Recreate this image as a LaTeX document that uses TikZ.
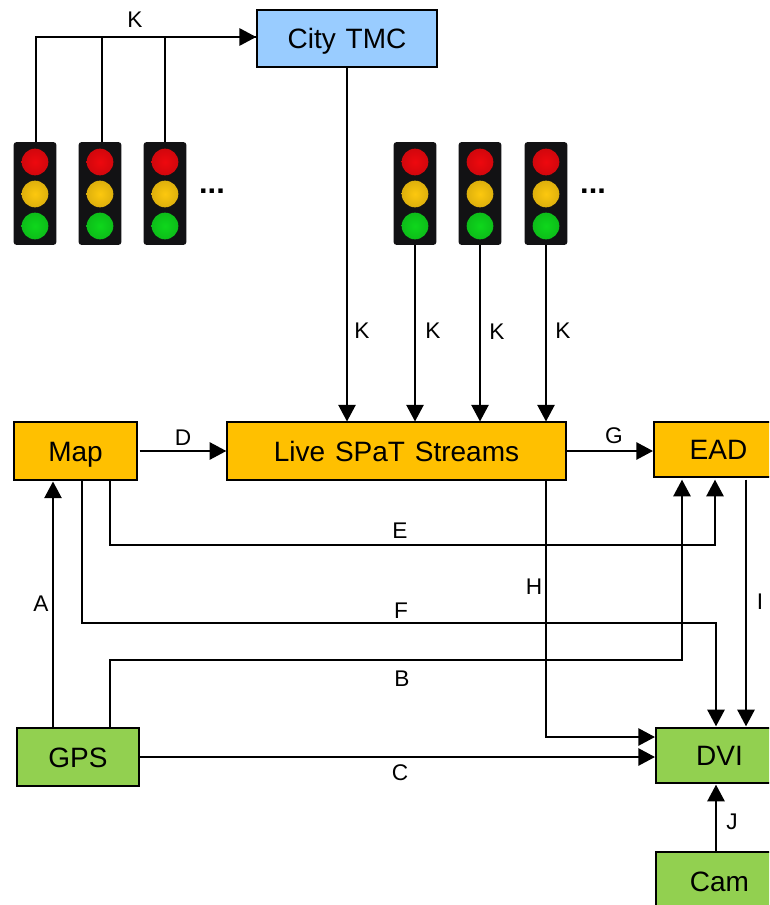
\documentclass[tikz,border=0pt]{standalone}
\usepackage{fontspec}
\setmainfont{Liberation Sans}
\usetikzlibrary{arrows.meta,calc}
\definecolor{lampred}{RGB}{238,8,14}
\definecolor{lampyellow}{RGB}{252,200,14}
\definecolor{lampgreen}{RGB}{14,215,28}
\tikzset{
  block/.style={draw,line width=1.3pt,inner sep=0pt,minimum height=43pt,text height=15pt,text depth=0pt,font=\fontsize{21}{21}\selectfont},
  amber/.style={block,fill={rgb,255:red,255;green,192;blue,0}},
  leaf/.style={block,fill={rgb,255:red,146;green,208;blue,80}},
  link/.style={line width=1.3pt,-{Triangle[length=12.5pt,width=13pt]}},
  wire/.style={line width=1.3pt},
  letter/.style={inner sep=0pt,font=\fontsize{17}{17}\selectfont},
  housing/.style={fill={rgb,255:red,18;green,18;blue,20},rounded corners=2pt,minimum width=32pt,minimum height=77pt,inner sep=0pt},
  lamp/.style={circle,minimum size=20pt,inner sep=0pt,inner color=#1,outer color=#1!88!black},
  ellipsis/.style={inner sep=0pt,font=\fontsize{23}{23}\selectfont\bfseries}
}
\begin{document}
\begin{tikzpicture}[x=0.75pt,y=-0.75pt]
  \useasboundingbox (0,0) rectangle (769,905);
  \clip (0,0) rectangle (769,905);
  \foreach \name/\xpos in {sa/35,sb/100,sc/165,sd/415,se/480,sf/546} { % signal heads
    \node[housing] (\name) at (\xpos,193.5) {};
    \node[lamp=lampred] (\name r) at (\xpos,162) {};
    \node[lamp=lampyellow] (\name y) at (\xpos,194) {};
    \node[lamp=lampgreen] (\name g) at (\xpos,226) {};
  }
  \node[ellipsis] (dotsa) at (212,191) {...};
  \node[ellipsis] (dotsb) at (593,191) {...};

  \node[block,minimum width=135pt,fill={rgb,255:red,153;green,204;blue,255}] (tmc) at (347,38.5) {City\hspace{0.35em}TMC};
  \node[amber,minimum width=92pt] (map) at (75.5,451) {Map};
  \node[amber,minimum width=254pt] (spat) at (396.5,451) {Live\hspace{0.35em}SPaT\hspace{0.35em}Streams};
  \node[amber,minimum width=97pt,minimum height=41pt] (ead) at (718.5,449.5) {EAD};
  \node[leaf,minimum width=92pt] (gps) at (78,757) {GPS\hspace{4pt}};
  \node[leaf,minimum width=95.5pt,minimum height=41pt] (dvi) at (719.5,755.5) {DVI};
  \node[leaf,minimum width=95.5pt] (cam) at (719.5,881) {Cam};

  \coordinate (kbus) at ($(tmc.west)+(0,-1.5)$);
  \coordinate (ebend) at (715,545);
  \coordinate (fbend) at (716,623);
  \coordinate (bbend) at (682,660);
  \draw[link] ($(sa.north)+(1,0)$) |- (kbus);
  \draw[wire] ($(sb.north)+(2,0)$) |- (kbus);
  \draw[wire] (sc.north) |- (kbus);
  \draw[link] (tmc.south) -- (tmc.south |- spat.north);
  \foreach \name in {sd,se,sf} % signals to streams
    \draw[link] (\name.south) -- (\name.south |- spat.north);

  \draw[link] (map.east) ++(2,0) -- (spat.west);
  \draw[link] (spat.east) -- (ead.west |- spat.east);
  \draw[link] ($(map.south)+(34.5,0)$) |- (ebend) -- ($(ead.south)+(-3.5,2)$);
  \draw[link] ($(map.south)+(6.5,0)$) |- (fbend) -- ($(dvi.north)+(-3.5,-1)$);
  \draw[link] ($(gps.north)+(32,0)$) |- (bbend) -- ($(ead.south)+(-36.5,2)$);
  \draw[link] ($(gps.north)+(-25,0)$) -- ($(map.south)+(-22.5,1)$);
  \draw[link] ($(spat.south)+(149.5,0)$) |- ($(dvi.west)+(0,-18.5)$);
  \draw[link] (gps.east) -- (dvi.west |- gps.east);
  \draw[link] ($(ead.south)+(27.5,2)$) -- ($(dvi.north)+(26.5,-1)$);
  \draw[link] ($(cam.north)+(-3.5,0)$) -- ($(dvi.south)+(-3.5,1)$);

  \foreach \name/\xpos/\ypos/\txt in {la/135/20/K,lb/362/331/K,lc/433/331/K,ld/497/332/K,le/563/331/K,
      lf/183/438/D,lg/614/436/G,lh/400/531/E,li/401/611/F,lj/402/679/B,lk/41/604/A,
      ll/534/587/H,lm/400/773/C,ln/760/602/I,lo/732/822/J}
    \node[letter] (\name) at (\xpos,\ypos) {\txt};
\end{tikzpicture}
\end{document}
